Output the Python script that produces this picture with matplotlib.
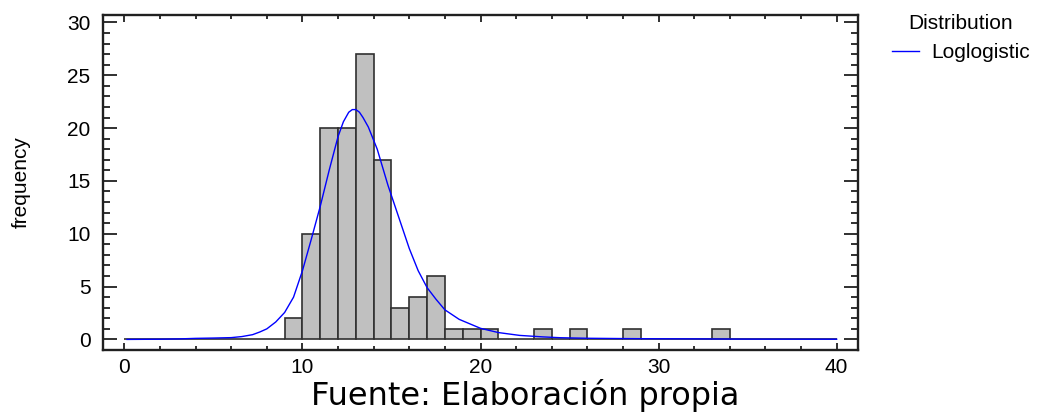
import numpy as np
import matplotlib
matplotlib.use('Agg')
import matplotlib.pyplot as plt
from matplotlib.ticker import MultipleLocator

# histogram counts, bins of width 1 from 0 to 40
bin_left = list(range(0, 40))
counts = [0, 0, 0, 0, 0, 0, 0, 0, 0, 2,
          10, 20, 20, 27, 17, 3, 4, 6, 1, 1,
          1, 0, 0, 1, 0, 1, 0, 0, 1, 0,
          0, 0, 0, 1, 0, 0, 0, 0, 0, 0]

# fitted loglogistic curve
curve_x = [0.15, 2, 3.1, 4, 5, 6, 6.6, 7.2, 7.6, 8, 8.5, 9, 9.5, 10, 10.5,
           11, 11.5, 12, 12.3, 12.6, 12.8, 13.0, 13.2, 13.4, 13.7, 14.2, 14.8,
           15.5, 16.0, 16.5, 17, 17.5, 18, 18.8, 20, 21, 22.2, 23.5, 24.5, 26,
           28, 30, 32, 35, 40]
curve_y = [0.0, 0.02, 0.05, 0.1, 0.13, 0.17, 0.27, 0.45, 0.7, 1.0, 1.65, 2.55,
           4.0, 6.5, 9.5, 12.6, 16.0, 19.2, 20.6, 21.5, 21.75, 21.75, 21.5,
           21.0, 20.1, 18.0, 14.6, 11.1, 8.6, 6.5, 4.9, 3.8, 2.8, 1.9, 1.05,
           0.65, 0.38, 0.24, 0.16, 0.11, 0.08, 0.06, 0.05, 0.03, 0.02]

plt.rcParams['font.family'] = ['Liberation Sans', 'DejaVu Sans']

fig = plt.figure(figsize=(10.51, 4.18), dpi=100)
ax = fig.add_axes([0.098, 0.1627, 0.7184, 0.8014])

ax.bar(bin_left, counts, width=1.0, align='edge', color='#c0c0c0',
       edgecolor='#303030', linewidth=1.2, zorder=2)
ax.plot(curve_x, curve_y, color='#0000ff', linewidth=1.0, zorder=3,
        label='Loglogistic')

ax.set_xlim(-1.2, 41.2)
ax.set_ylim(-1.0, 30.7)
ax.xaxis.set_major_locator(MultipleLocator(10))
ax.xaxis.set_minor_locator(MultipleLocator(2))
ax.yaxis.set_major_locator(MultipleLocator(5))
ax.yaxis.set_minor_locator(MultipleLocator(1))

ax.tick_params(axis='both', which='both', direction='in', top=True, right=True,
               labelsize=15, color='#202020', width=1.3)
ax.tick_params(axis='x', which='major', length=5, pad=6)
ax.tick_params(axis='x', which='minor', length=3)
ax.tick_params(axis='y', which='major', length=10, pad=9)
ax.tick_params(axis='y', which='minor', length=5)
for s in ax.spines.values():
    s.set_linewidth(1.7)
    s.set_color('#202020')

ax.set_ylabel('frequency', fontsize=15, labelpad=26)

leg = ax.legend(title='Distribution', loc='upper left',
                bbox_to_anchor=(1.02, 1.06), frameon=False, fontsize=15,
                title_fontsize=15, handlelength=1.3, handletextpad=0.6,
                labelspacing=0.5)

fig.text(0.5, 0.015, 'Fuente: Elaboración propia', ha='center', va='bottom',
         fontsize=23, family='DejaVu Sans')

fig.savefig('out.png', dpi=100)
